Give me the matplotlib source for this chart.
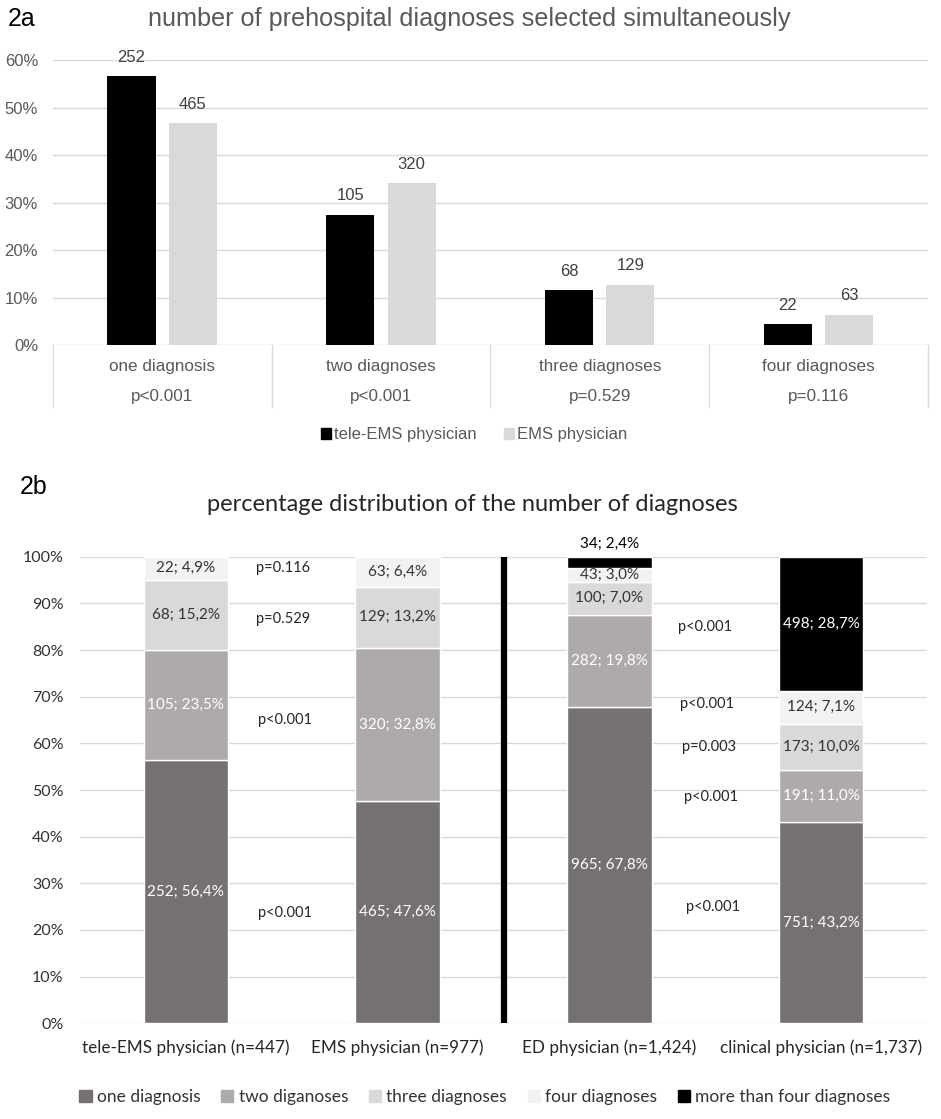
import matplotlib
matplotlib.use('Agg')
import matplotlib.pyplot as plt
from matplotlib.patches import Patch
import numpy as np

W, H = 941, 1119

# ---- 2a data ----
cats_a = ['one diagnosis', 'two diagnoses', 'three diagnoses', 'four diagnoses']
tele_pct = [56.6, 27.5, 11.7, 4.5]
ems_pct = [46.8, 34.1, 12.8, 6.5]
tele_n = [252, 105, 68, 22]
ems_n = [465, 320, 129, 63]
p_a = ['p<0.001', 'p<0.001', 'p=0.529', 'p=0.116']

# ---- 2b data ----
groups = ['tele-EMS physician (n=447)', 'EMS physician (n=977)',
          'ED physician (n=1,424)', 'clinical physician (n=1,737)']
seg_names = ['one diagnosis', 'two diganoses', 'three diagnoses',
             'four diagnoses', 'more than four diagnoses']
one_pct = [56.4, 47.6, 67.8, 43.2]
two_pct = [23.5, 32.8, 19.8, 11.0]
three_pct = [15.2, 13.2, 7.0, 10.0]
four_pct = [4.9, 6.4, 3.0, 7.1]
more_pct = [0, 0, 2.4, 28.7]
one_n = [252, 465, 965, 751]
two_n = [105, 320, 282, 191]
three_n = [68, 129, 100, 173]
four_n = [22, 63, 43, 124]
more_n = [0, 0, 34, 498]
p_left = ['p=0.116', 'p=0.529', 'p<0.001', 'p<0.001']
p_right = ['p<0.001', 'p<0.001', 'p=0.003', 'p<0.001', 'p<0.001']

# where the p-value notes sit (x in category units, y in %)
p_left_pos = [(0.46, 97.5), (0.46, 86.7), (0.47, 64.9), (0.47, 23.6)]
p_right_pos = [(2.45, 85.0), (2.46, 68.5), (2.47, 59.2), (2.48, 48.5), (2.49, 25.0)]

seg_colors = ['#767171', '#AEAAAA', '#D9D9D9', '#F2F2F2', '#000000']
seg_text = ['white', 'white', '#333333', '#333333', 'white']

fig = plt.figure(figsize=(W / 100, H / 100), dpi=100)


def px_axes(left, top, right, bottom):
    return fig.add_axes([left / W, 1 - bottom / H, (right - left) / W, (bottom - top) / H])


arial = 'Liberation Sans'
cal = 'Lato'

# ================= 2a =================
ax1 = px_axes(52.7, 60, 928, 345.5)
x = np.arange(len(cats_a))
ax1.bar(x - 0.14, tele_pct, 0.22, color='black', zorder=3)
ax1.bar(x + 0.14, ems_pct, 0.22, color='#D9D9D9', zorder=3)
for xi, v, n in zip(x - 0.14, tele_pct, tele_n):
    ax1.annotate(str(n), (xi, v), xytext=(0, 13.5), textcoords='offset points',
                 ha='center', va='center', fontsize=12, color='#404040', family=arial)
for xi, v, n in zip(x + 0.14, ems_pct, ems_n):
    ax1.annotate(str(n), (xi, v), xytext=(0, 13.5), textcoords='offset points',
                 ha='center', va='center', fontsize=12, color='#404040', family=arial)

ax1.set_xlim(-0.5, 3.5)
ax1.set_ylim(0, 60)
ax1.set_yticks(range(0, 61, 10))
ax1.set_yticklabels([f'{v}%' for v in range(0, 61, 10)], family=arial, fontsize=12, color='#595959')
ax1.set_xticks([])
ax1.tick_params(axis='y', length=0, pad=10.5)
ax1.grid(axis='y', color='#D9D9D9', lw=1)
ax1.set_axisbelow(True)
for s in ax1.spines.values():
    s.set_visible(False)

trans = ax1.get_xaxis_transform()
axh = 345.5 - 60
for xs in np.arange(-0.5, 4, 1):
    ax1.plot([xs, xs], [0, -61.2 / axh], transform=trans, clip_on=False, color='#D9D9D9', lw=1)
for xi, c, p in zip(x, cats_a, p_a):
    ax1.text(xi, -21.2 / axh, c, transform=trans, ha='center', va='center',
             fontsize=12.3, color='#595959', family=arial)
    ax1.text(xi, -51.2 / axh, p, transform=trans, ha='center', va='center',
             fontsize=12.3, color='#595959', family=arial)

fig.text(469 / W, 1 - 19 / H, 'number of prehospital diagnoses selected simultaneously',
         ha='center', va='center', fontsize=18.2, color='#595959', family=arial)
fig.text(8 / W, 1 - 19 / H, '2a', ha='left', va='center', fontsize=18, color='black', family=arial)

fig.legend(handles=[Patch(color='black', label='tele-EMS physician'),
                    Patch(color='#D9D9D9', label='EMS physician')],
           loc='center', bbox_to_anchor=(474 / W, 1 - 435 / H), ncol=2, frameon=False,
           handlelength=0.6, handleheight=0.6, handletextpad=0.2, columnspacing=1.6,
           prop={'family': arial, 'size': 12}, labelcolor='#595959')

# ================= 2b =================
ax2 = px_axes(80, 556.7, 927, 1023.3)
xb = np.arange(len(groups))
seg_pcts = [one_pct, two_pct, three_pct, four_pct, more_pct]
seg_ns = [one_n, two_n, three_n, four_n, more_n]
bottom = np.zeros(len(groups))
for i, (vals, ns) in enumerate(zip(seg_pcts, seg_ns)):
    vals = np.array(vals, dtype=float)
    ax2.bar(xb, vals, 0.40, bottom=bottom, color=seg_colors[i], edgecolor='white',
            linewidth=1, zorder=3)
    for xi, b, v, n in zip(xb, bottom, vals, ns):
        if v == 0:
            continue
        lbl = f'{n}; {v:.1f}%'.replace('.', ',')
        if v < 2.5:
            ax2.annotate(lbl, (xi, b + v), xytext=(0, 9), textcoords='offset points',
                         ha='center', va='center', fontsize=11, color='black', family=cal)
        else:
            ax2.text(xi, b + v / 2, lbl, ha='center', va='center', fontsize=11,
                     color=seg_text[i], family=cal, zorder=4)
    bottom += vals

ax2.plot([1.5, 1.5], [0, 100], color='black', lw=4.5, solid_capstyle='butt', zorder=4)

for (px, py), p in zip(p_left_pos, p_left):
    ax2.text(px, py, p, ha='center', va='center', fontsize=10.5, color='#262626', family=cal)
for (px, py), p in zip(p_right_pos, p_right):
    ax2.text(px, py, p, ha='center', va='center', fontsize=10.5, color='#262626', family=cal)

ax2.set_xlim(-0.5, 3.5)
ax2.set_ylim(0, 100)
ax2.set_yticks(range(0, 101, 10))
ax2.set_yticklabels([f'{v}%' for v in range(0, 101, 10)], family=cal, fontsize=11.5, color='#333333')
ax2.set_xticks([])
ax2.tick_params(axis='y', length=0, pad=12)
ax2.grid(axis='y', color='#D9D9D9', lw=1)
ax2.set_axisbelow(True)
for s in ax2.spines.values():
    s.set_visible(False)

trans2 = ax2.get_xaxis_transform()
for xi, g in zip(xb, groups):
    ax2.text(xi, -24.7 / 466.6, g, transform=trans2, ha='center', va='center',
             fontsize=12.3, color='#262626', family=cal)

fig.text(472 / W, 1 - 504 / H, 'percentage distribution of the number of diagnoses',
         ha='center', va='center', fontsize=17, color='#262626', family=cal)
fig.text(20 / W, 1 - 487 / H, '2b', ha='left', va='center', fontsize=18, color='black', family=arial)

fig.legend(handles=[Patch(color=c, label=nm) for c, nm in zip(seg_colors, seg_names)],
           loc='center', bbox_to_anchor=(485 / W, 1 - 1097 / H), ncol=5, frameon=False,
           handlelength=0.7, handleheight=0.7, handletextpad=0.3, columnspacing=1.2,
           prop={'family': cal, 'size': 12.5}, labelcolor='#333333')

fig.savefig('out.png', dpi=100)
